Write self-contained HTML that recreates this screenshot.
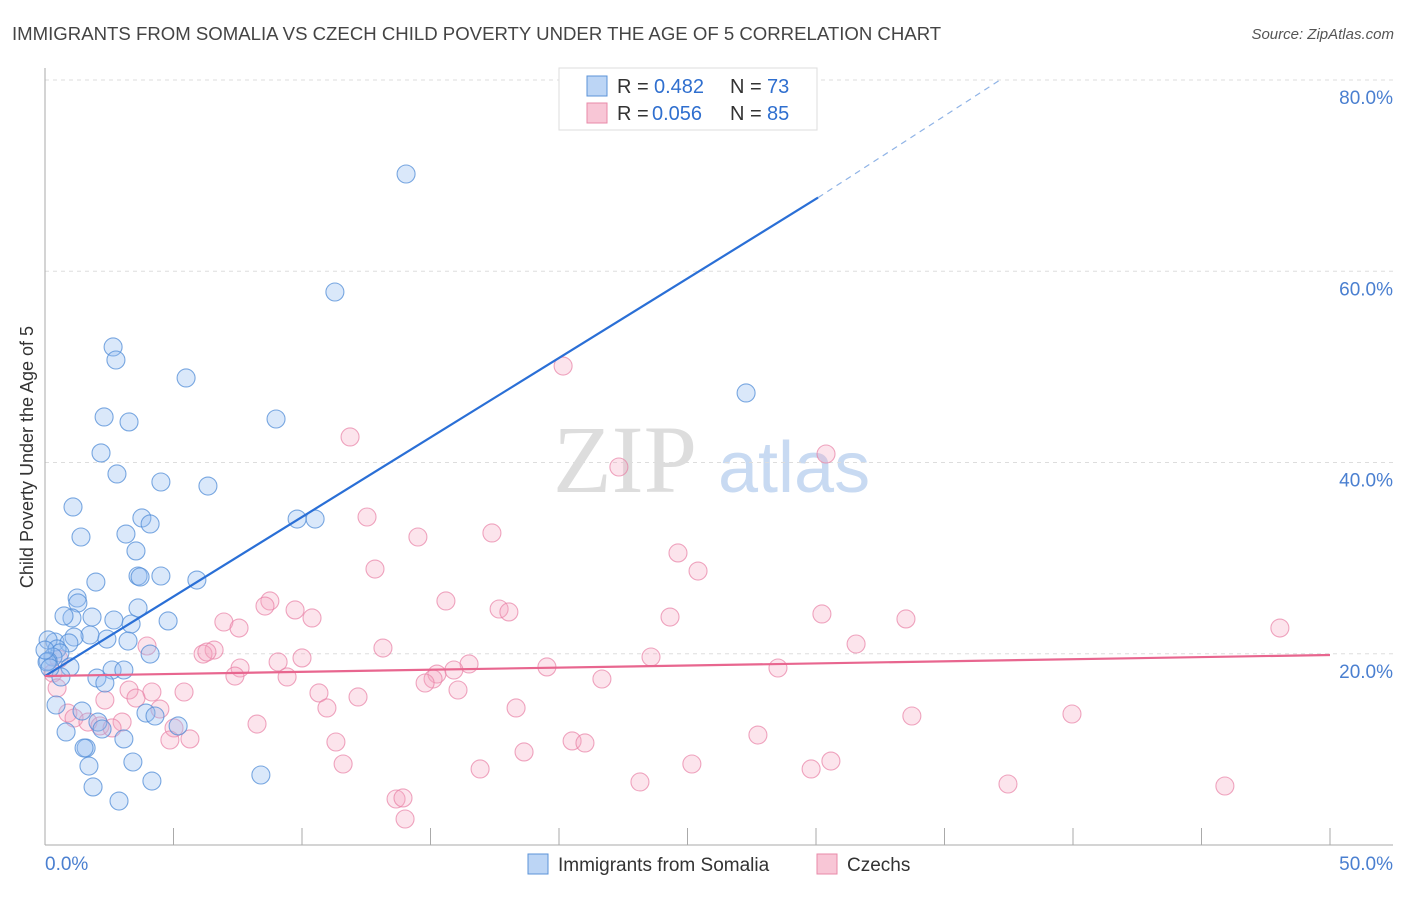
<!DOCTYPE html>
<html><head><meta charset="utf-8"><style>
body{margin:0;background:#fff;font-family:"Liberation Sans",sans-serif;}
svg text{font-family:"Liberation Sans",sans-serif;}
</style></head><body>
<svg width="1406" height="892" viewBox="0 0 1406 892" xmlns="http://www.w3.org/2000/svg" id="chart">
<text x="12" y="40" font-size="18.6" fill="#444">IMMIGRANTS FROM SOMALIA VS CZECH CHILD POVERTY UNDER THE AGE OF 5 CORRELATION CHART</text>
<text x="1394" y="39" font-size="15" fill="#555" text-anchor="end" font-style="italic">Source: ZipAtlas.com</text>
<text x="553" y="492" font-size="96" fill="#ddd" style="font-family:'Liberation Serif',serif">ZIP</text>
<text x="718" y="492" font-size="72" fill="#c8daf2">atlas</text>
<g id="grid"></g>
<g id="marks"></g>
<text transform="translate(33,457) rotate(-90)" font-size="18" fill="#333" text-anchor="middle">Child Poverty Under the Age of 5</text>
<g>
<rect x="559" y="68" width="258" height="62" fill="#fff" stroke="#ddd"/>
<rect x="587" y="76" width="20" height="20" fill="#bcd5f5" stroke="#5b93d8"/>
<rect x="587" y="103" width="20" height="20" fill="#f8c6d6" stroke="#e88aa8"/>
<text x="617" y="93" font-size="20" fill="#333">R =</text>
<text x="654" y="93" font-size="20" fill="#2f6fcf">0.482</text>
<text x="730" y="93" font-size="20" fill="#333">N =</text>
<text x="767" y="93" font-size="20" fill="#2f6fcf">73</text>
<text x="617" y="120" font-size="20" fill="#333">R =</text>
<text x="652" y="120" font-size="20" fill="#2f6fcf">0.056</text>
<text x="730" y="120" font-size="20" fill="#333">N =</text>
<text x="767" y="120" font-size="20" fill="#2f6fcf">85</text>
</g>
<g>
<rect x="528" y="854" width="20" height="20" fill="#bcd5f5" stroke="#5b93d8"/>
<text x="558" y="871" font-size="19" fill="#333">Immigrants from Somalia</text>
<rect x="817" y="854" width="20" height="20" fill="#f8c6d6" stroke="#e88aa8"/>
<text x="847" y="871" font-size="19" fill="#333">Czechs</text>
</g>
</svg>
<script>
const yTicks=[20,40,60,80];
const yTickLabels=["20.0%","40.0%","60.0%","80.0%"];
const xTicks=[0,5,10,15,20,25,30,35,40,45,50];
const somaliaX=[14.05,11.28,2.65,2.76,5.49,27.28,2.30,3.27,8.99,2.18,2.80,4.51,6.34,1.09,3.77,4.09,9.81,10.51,3.15,1.40,3.54,3.62,4.51,3.70,5.91,1.98,1.25,1.28,3.62,1.05,1.83,0.74,2.68,4.79,3.35,1.75,1.13,2.41,3.23,0.39,0.12,0.93,0.47,4.09,0.58,0.31,0.12,0.97,2.61,3.07,0.62,2.02,2.33,0.43,1.44,3.93,4.28,5.18,2.06,2.22,0.82,3.07,1.60,1.52,3.42,1.71,8.40,4.16,1.87,2.88,0.08,0.0,0.19];
const somaliaY=[70.17,57.83,52.08,50.72,48.84,47.27,44.76,44.24,44.55,41.00,38.80,37.96,37.54,35.35,34.20,33.57,34.09,34.09,32.52,32.21,30.75,28.13,28.13,28.03,27.71,27.50,25.83,25.31,24.79,23.74,23.84,23.95,23.53,23.43,23.11,21.96,21.75,21.54,21.33,21.23,21.44,21.13,20.50,19.97,20.08,19.66,19.24,18.62,18.30,18.30,17.57,17.46,16.94,14.64,14.01,13.80,13.49,12.45,12.86,12.13,11.82,11.09,10.14,10.14,8.68,8.26,7.32,6.69,6.07,4.60,19.14,20.39,18.51];
const czechX=[20.16,11.87,30.39,22.33,12.53,17.39,14.51,24.63,25.41,12.84,8.75,8.56,15.60,9.73,17.67,18.05,10.39,24.32,30.23,33.50,48.05,6.96,7.55,6.58,6.15,6.30,3.97,13.15,31.56,10.00,9.07,16.50,23.58,7.59,7.39,19.53,28.52,15.25,15.91,15.10,14.79,21.67,9.42,0.54,0.31,0.47,3.27,4.16,5.41,10.66,12.18,16.07,2.33,3.54,10.97,18.33,4.47,33.73,39.96,0.89,1.13,1.67,3.00,2.14,2.61,5.02,8.25,5.64,4.86,11.32,20.51,21.01,27.74,18.64,11.60,16.93,25.17,29.81,30.58,23.15,37.47,45.91,13.66,13.93,14.01];
const czechY=[50.09,42.67,40.89,39.53,34.30,32.63,32.21,30.54,28.65,28.86,25.52,24.99,25.52,24.58,24.68,24.37,23.74,23.84,24.16,23.64,22.69,23.32,22.69,20.39,19.97,20.18,20.81,20.60,21.02,19.56,19.14,18.93,19.66,18.51,17.67,18.62,18.51,17.88,18.30,17.36,16.94,17.36,17.57,19.45,17.99,16.42,16.21,16.00,16.00,15.90,15.48,16.21,15.16,15.37,14.33,14.33,14.22,13.49,13.70,13.80,13.28,12.86,12.86,12.45,12.24,12.24,12.65,11.09,10.98,10.77,10.88,10.67,11.50,9.73,8.47,7.95,8.47,7.95,8.78,6.59,6.38,6.17,4.81,4.92,2.72];
const somaliaTrend=[[0,17.67],[30.08,67.7]];
const somaliaTrendExt=[[30.08,67.7],[37.16,80]];
const czechTrend=[[0,17.67],[50,19.87]];

const NS="http://www.w3.org/2000/svg";
const X=v=>45+v*25.7;
const Y=v=>845-v*9.5625;
function mk(tag,attrs,parent){const e=document.createElementNS(NS,tag);for(const k in attrs)e.setAttribute(k,attrs[k]);parent.appendChild(e);return e;}
const gridG=document.getElementById('grid'),marksG=document.getElementById('marks');
yTicks.forEach((t,i)=>{
  const l=mk('line',{x1:45,x2:1393,y1:Y(t),y2:Y(t),stroke:'#ddd','stroke-dasharray':'4,4'},gridG);
  
  
  const tx=mk('text',{x:1393,y:Y(t)+24,'font-size':19,fill:'#4a7fd0','text-anchor':'end'},gridG);
  tx.textContent=yTickLabels[i];
  
  
});
const axX=mk('line',{x1:45,x2:1393,y1:845,y2:845,stroke:'#aaa'},gridG);


const axY=mk('line',{x1:45,x2:45,y1:68,y2:845,stroke:'#aaa'},gridG);


xTicks.forEach(t=>{
  const l=mk('line',{x1:X(t),x2:X(t),y1:828,y2:845,stroke:'#aaa'},gridG);
  
  
});
const xl0=mk('text',{x:45,y:870,'font-size':19,fill:'#4a7fd0'},gridG);xl0.textContent='0.0%';


const xl1=mk('text',{x:1393,y:870,'font-size':19,fill:'#4a7fd0','text-anchor':'end'},gridG);xl1.textContent='50.0%';



czechX.forEach((v,i)=>{
  const c=mk('circle',{cx:X(v),cy:Y(czechY[i]),r:9,fill:'rgba(245,165,192,0.3)',stroke:'rgba(232,128,165,0.7)','stroke-width':1.1},marksG);
  
  
});
somaliaX.forEach((v,i)=>{
  const c=mk('circle',{cx:X(v),cy:Y(somaliaY[i]),r:9,fill:'rgba(150,190,240,0.35)',stroke:'rgba(80,140,215,0.75)','stroke-width':1.1},marksG);
  
  
});
const bl=mk('line',{x1:X(somaliaTrend[0][0]),y1:Y(somaliaTrend[0][1]),x2:X(somaliaTrend[1][0]),y2:Y(somaliaTrend[1][1]),stroke:'#2a6fd6','stroke-width':2.2},marksG);


const be=mk('line',{x1:X(somaliaTrendExt[0][0]),y1:Y(somaliaTrendExt[0][1]),x2:X(somaliaTrendExt[1][0]),y2:Y(somaliaTrendExt[1][1]),stroke:'#8fb3e6','stroke-width':1.2,'stroke-dasharray':'6,5'},marksG);


const pl=mk('line',{x1:X(czechTrend[0][0]),y1:Y(czechTrend[0][1]),x2:X(czechTrend[1][0]),y2:Y(czechTrend[1][1]),stroke:'#e8668f','stroke-width':2.2},marksG);


</script>
</body></html>
